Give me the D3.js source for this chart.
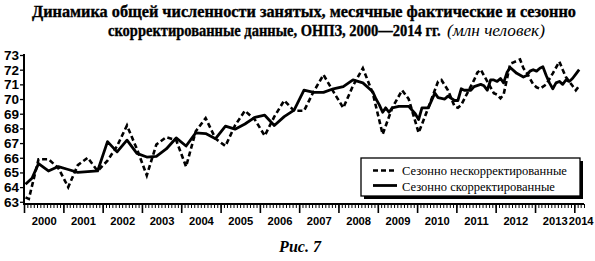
<html>
<head>
<meta charset="utf-8">
<style>
  body { margin: 0; background: #fff; }
  svg { display: block; }
  .ylab { font-family: "Liberation Sans", Arial, sans-serif; font-weight: bold; font-size: 13.5px; }
  .xlab { font-family: "Liberation Sans", Arial, sans-serif; font-weight: bold; font-size: 11.2px; }
  .title { font-family: "Liberation Serif", serif; font-weight: bold; stroke: #000; stroke-width: 0.35px; }
  .titleIt { font-family: "Liberation Serif", serif; font-style: italic; }
  .leg { font-family: "Liberation Serif", serif; }
  .fig { font-family: "Liberation Serif", serif; font-style: italic; font-weight: bold; font-size: 16px; }
</style>
</head>
<body>
<svg id="chart" width="595" height="261" xmlns="http://www.w3.org/2000/svg"></svg>
<script src="https://cdn.jsdelivr.net/npm/d3@7"></script>
<script>
// seasonally unadjusted (dashed), [month, mln people]
const unadjusted = [
  ["2000-01", 63.3], ["2000-02", 63.2], ["2000-05", 65.9], ["2000-08", 65.9], ["2000-11", 65.3],
  ["2001-02", 64.0], ["2001-05", 65.5], ["2001-08", 66.0], ["2001-11", 65.1],
  ["2002-02", 65.8], ["2002-05", 66.8], ["2002-08", 68.2], ["2002-11", 66.6],
  ["2003-02", 64.8], ["2003-05", 66.9], ["2003-08", 67.4], ["2003-11", 67.2],
  ["2004-02", 65.4], ["2004-05", 67.8], ["2004-08", 68.7], ["2004-11", 67.3],
  ["2005-02", 66.8], ["2005-05", 68.2], ["2005-08", 69.2], ["2005-11", 68.6],
  ["2006-02", 67.5], ["2006-05", 68.8], ["2006-08", 69.9], ["2006-11", 69.2],
  ["2007-02", 69.2], ["2007-05", 70.5], ["2007-08", 71.65], ["2007-11", 70.5],
  ["2008-02", 69.4], ["2008-05", 70.9], ["2008-08", 72.1], ["2008-11", 70.4],
  ["2009-02", 67.6], ["2009-05", 69.4], ["2009-08", 70.6], ["2009-10", 70.0],
  ["2010-01", 67.7], ["2010-04", 69.4], ["2010-07", 71.2], ["2010-08", 71.3], ["2010-10", 70.6], ["2010-12", 69.5],
  ["2011-01", 69.4], ["2011-02", 69.6], ["2011-06", 71.3], ["2011-07", 71.8], ["2011-08", 72.0], ["2011-10", 71.2], ["2011-12", 70.4],
  ["2012-01", 70.3], ["2012-02", 70.05], ["2012-03", 70.3], ["2012-05", 72.4], ["2012-06", 72.5], ["2012-08", 72.7],
  ["2012-09", 72.1], ["2012-10", 71.8], ["2012-12", 71.0],
  ["2013-01", 70.8], ["2013-02", 70.7], ["2013-04", 71.0], ["2013-06", 71.75], ["2013-08", 72.55],
  ["2013-09", 72.0], ["2013-10", 71.5], ["2013-12", 70.9],
  ["2014-01", 70.6], ["2014-02", 70.9]
]

// seasonally adjusted (solid)
const adjusted = [
  ["2000-01", 64.2], ["2000-03", 64.6], ["2000-05", 65.6], ["2000-08", 65.1], ["2000-11", 65.4],
  ["2001-02", 65.2], ["2001-05", 65.0], ["2001-08", 65.05], ["2001-11", 65.1],
  ["2002-02", 67.1], ["2002-05", 66.4], ["2002-08", 67.2], ["2002-11", 66.3],
  ["2003-02", 66.05], ["2003-05", 66.1], ["2003-08", 66.6], ["2003-11", 67.35],
  ["2004-02", 66.8], ["2004-05", 67.7], ["2004-08", 67.65], ["2004-11", 67.3],
  ["2005-02", 68.15], ["2005-05", 67.95], ["2005-08", 68.3], ["2005-11", 68.75],
  ["2006-02", 68.9], ["2006-05", 68.2], ["2006-08", 68.8], ["2006-11", 69.25],
  ["2007-02", 70.6], ["2007-05", 70.45], ["2007-08", 70.45], ["2007-11", 70.7],
  ["2008-02", 70.85], ["2008-05", 71.3], ["2008-08", 71.1], ["2008-11", 70.5], ["2008-12", 70.0],
  ["2009-01", 69.6], ["2009-02", 69.1], ["2009-03", 69.4], ["2009-04", 69.1], ["2009-05", 69.4],
  ["2009-07", 69.5], ["2009-10", 69.5], ["2009-12", 69.0],
  ["2010-01", 68.6], ["2010-02", 69.4], ["2010-04", 69.4], ["2010-06", 70.4], ["2010-07", 70.1],
  ["2010-09", 70.0], ["2010-10", 70.2], ["2010-12", 69.9],
  ["2011-01", 69.9], ["2011-02", 70.7], ["2011-03", 70.6], ["2011-05", 70.6], ["2011-06", 70.85],
  ["2011-08", 71.0], ["2011-09", 70.9], ["2011-10", 70.6], ["2011-11", 71.3], ["2011-12", 71.3],
  ["2012-01", 71.2], ["2012-02", 71.4], ["2012-03", 71.1], ["2012-04", 71.8], ["2012-05", 72.15],
  ["2012-07", 71.75], ["2012-09", 71.5], ["2012-10", 71.6], ["2012-11", 71.9], ["2012-12", 72.0],
  ["2013-01", 71.9], ["2013-02", 72.1], ["2013-03", 72.2], ["2013-04", 71.6], ["2013-05", 71.1],
  ["2013-06", 70.7], ["2013-07", 71.1], ["2013-08", 71.2], ["2013-09", 71.0], ["2013-10", 71.3],
  ["2013-11", 71.2], ["2013-12", 71.4],
  ["2014-01", 71.7], ["2014-02", 72.0]
]

const yTicks = [63, 64, 65, 66, 67, 68, 69, 70, 71, 72, 73]
const yearLabels = ["2000", "2001", "2002", "2003", "2004", "2005", "2006", "2007",
                    "2008", "2009", "2010", "2011", "2012", "2013", "2014"]
const legendLabels = ["Сезонно нескорректированные", "Сезонно скорректированные"]
const titleLine1 = "Динамика общей численности занятых, месячные фактические и сезонно"
const titleLine2 = "скорректированные данные, ОНПЗ, 2000—2014 гг."
const titleUnits = "(млн человек)"
const figLabel = "Рис. 7"

let svg = d3.select("#chart")
let parse = d3.timeParse("%Y-%m")
// point sits in the middle of its month
let midMonth = s => { let d = parse(s); return new Date(d.getFullYear(), d.getMonth(), 15) }

// set font size so the text spans the wanted width
function fitText(sel, width, base) {
  sel.style("font-size", base + "px")
  let w = sel.node().getComputedTextLength()
  let size = base * width / w
  sel.style("font-size", size.toFixed(2) + "px")
  return size
}

let x0 = 24, x1 = 584, yTop = 55, yBot = 204
let xStart = new Date(2000, 0, 1), xEnd = new Date(2014, 3, 1)
let xScale = d3.scaleTime().domain([xStart, xEnd]).range([x0, x1])
let yScale = d3.scaleLinear().domain([62.85, 73]).range([yBot, yTop])

// title; line 2 keeps line 1's height but is squeezed sideways
let t1 = svg.append("text").attr("class", "title").attr("x", 32).attr("y", 17).text(titleLine1)
let tSize = fitText(t1, 544, 15)
let t2 = svg.append("text").attr("class", "title")
  .style("font-size", tSize + "px").text(titleLine2)
let sx = 333 / t2.node().getComputedTextLength()
t2.attr("transform", `translate(108,36) scale(${sx.toFixed(3)},1)`)
let t3 = svg.append("text").attr("class", "titleIt").attr("x", 447).attr("y", 36).text(titleUnits)
fitText(t3, 98, 15)

// y axis
let yAxis = d3.axisLeft(yScale).tickValues(yTicks).tickSize(4).tickFormat(d3.format("d"))
let yg = svg.append("g").attr("transform", `translate(${x0},0)`).call(yAxis)
yg.attr("font-family", null).attr("font-size", null)
yg.select(".domain").remove()
yg.selectAll(".tick line").attr("stroke", "#000").attr("stroke-width", 1.3)
yg.selectAll(".tick text").attr("class", "ylab").attr("x", -5).attr("fill", "#000")
svg.append("line").attr("x1", x0).attr("x2", x0).attr("y1", yScale(73) - 1).attr("y2", yBot)
  .attr("stroke", "#000").attr("stroke-width", 2)

// x axis: monthly minor ticks, yearly major ticks
let minor = d3.axisBottom(xScale).ticks(d3.timeMonth.every(1)).tickSize(4).tickFormat("")
let mg = svg.append("g").attr("transform", `translate(0,${yBot})`).call(minor)
mg.select(".domain").remove()
mg.selectAll(".tick line").attr("stroke", "#000").attr("stroke-width", 1)

let major = d3.axisBottom(xScale).ticks(d3.timeYear.every(1)).tickSize(9).tickFormat("")
let jg = svg.append("g").attr("transform", `translate(0,${yBot})`).call(major)
jg.select(".domain").remove()
jg.selectAll(".tick line").attr("stroke", "#000").attr("stroke-width", 1.6)

svg.append("line").attr("x1", x0 - 1).attr("x2", x1).attr("y1", yBot).attr("y2", yBot)
  .attr("stroke", "#000").attr("stroke-width", 2)

svg.append("g").selectAll("text").data(yearLabels).join("text")
  .attr("class", "xlab")
  .attr("text-anchor", "middle")
  .attr("x", d => {
    let a = new Date(+d, 0, 1), b = new Date(+d + 1, 0, 1)
    if (b > xEnd) return (xScale(a) + xScale(xEnd)) / 2 + 2
    return (xScale(a) + xScale(b)) / 2 + 0.5
  })
  .attr("y", 225)
  .text(d => d)

// lines
let line = d3.line().x(d => xScale(midMonth(d[0]))).y(d => yScale(d[1]))
svg.append("path").datum(unadjusted)
  .attr("d", line).attr("fill", "none").attr("stroke", "#000")
  .attr("stroke-width", 2.6).attr("stroke-dasharray", "5,3")
svg.append("path").datum(adjusted)
  .attr("d", line).attr("fill", "none").attr("stroke", "#000")
  .attr("stroke-width", 2.8).attr("stroke-linejoin", "round")

// legend
let lg = svg.append("g").attr("transform", "translate(361,158)")
lg.append("rect").attr("x", 3).attr("y", 3).attr("width", 219).attr("height", 38).attr("fill", "#000")
lg.append("rect").attr("width", 219).attr("height", 38).attr("fill", "#fff")
  .attr("stroke", "#000").attr("stroke-width", 1.3)
lg.append("line").attr("x1", 12).attr("x2", 36).attr("y1", 12.5).attr("y2", 12.5)
  .attr("stroke", "#000").attr("stroke-width", 2.6).attr("stroke-dasharray", "5,3")
lg.append("line").attr("x1", 12).attr("x2", 36).attr("y1", 27.5).attr("y2", 27.5)
  .attr("stroke", "#000").attr("stroke-width", 2.8)
lg.selectAll("text.leg").data(legendLabels).join("text")
  .attr("class", "leg")
  .attr("x", 41).attr("y", (d, i) => 17 + i * 15.5)
  .text(d => d)
  .each(function (d, i) { fitText(d3.select(this), i == 0 ? 165 : 153, 13) })

// figure caption
svg.append("text").attr("class", "fig")
  .attr("x", 300).attr("y", 252).attr("text-anchor", "middle")
  .text(figLabel)
</script>
</body>
</html>
